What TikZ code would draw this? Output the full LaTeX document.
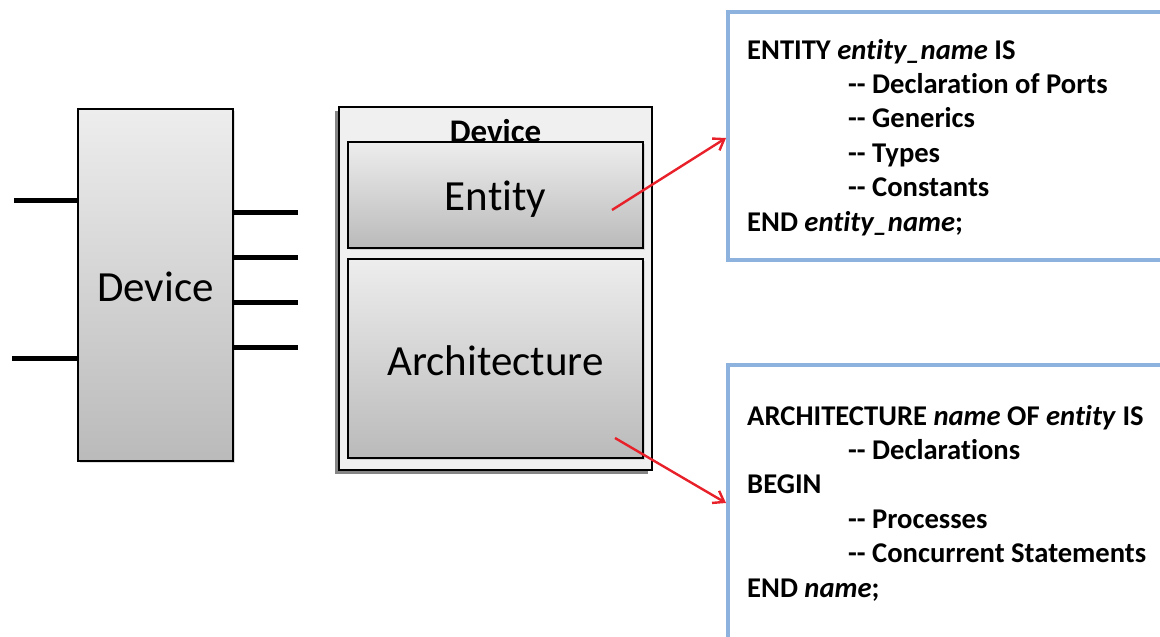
\documentclass[tikz,border=0pt]{standalone}
\usepackage{fontspec}
\setmainfont{Carlito}[Ligatures=NoCommon]
\usetikzlibrary{positioning,arrows.meta,shadows,calc}

\begin{document}
\begin{tikzpicture}[
  x=1pt, y=-1pt,
  big/.style={font=\fontsize{43}{51}\selectfont},
  block/.style={draw=black, line width=2.2pt, top color=black!7, bottom color=black!27,
                inner sep=0pt, drop shadow={shadow xshift=2pt, shadow yshift=-2pt, opacity=0.25}},
  shell/.style={draw=black, line width=2.2pt, fill=black!6, inner sep=0pt,
                drop shadow={shadow xshift=-4pt, shadow yshift=-4pt, fill=black!60, opacity=0.8}},
  pin/.style={line width=5pt},
  codebox/.style={draw={rgb,255:red,142;green,178;blue,222},
                  line width=4pt, fill=white, inner sep=0pt},
  code/.style={font=\bfseries\fontsize{28.6}{34.4}\selectfont, align=left, inner sep=0pt, anchor=base west},
  link/.style={draw={rgb,255:red,232;green,32;blue,42}, line width=2.4pt,
               -{Straight Barb[length=10pt, width=14pt, line width=2.4pt]}},
]
\useasboundingbox (0,0) rectangle (1160,637);

% ---- left: the device as a black box with its pins ----
\node[block, minimum width=155, minimum height=352] (dev) at (155.5,285) {};
\node[big] (devtxt) at ([yshift=-2]dev.center) {Device};

\coordinate (inA) at (14,200);
\coordinate (inB) at (12,358);
\draw[pin] (inA) -- (inA -| dev.west);
\draw[pin] (inB) -- (inB -| dev.west);
\foreach \y [count=\i] in {212,257,302,347} {
  \coordinate (out\i) at (298,\y);
  \draw[pin] (out\i -| dev.east) -- (out\i);
}

% ---- middle: device = entity + architecture ----
\node[shell, minimum width=313, minimum height=363] (shell) at (495.5,288.5) {};
\node[font=\bfseries\fontsize{33}{39}\selectfont, anchor=base, inner sep=0pt]
  (shelltxt) at (495.5,142) {Device};
\node[block, minimum width=295, minimum height=106] (ent) at (495.5,195) {};
\node[big] at ([yshift=-4]ent.center) {Entity};
\node[block, minimum width=295, minimum height=199] (arch) at (495.5,358.5) {};
\node[big] at ([yshift=-2]arch.center) {Architecture};

% ---- right: VHDL templates ----
\node[codebox, minimum width=480, minimum height=248] (entcode) at (968,136) {};
\node[code] (enttxt) at (747,231)
  {ENTITY \textit{entity\_name} IS\\
   \hspace*{101pt}-{}- Declaration of Ports\\
   \hspace*{101pt}-{}- Generics\\
   \hspace*{101pt}-{}- Types\\
   \hspace*{101pt}-{}- Constants\\
   END \textit{entity\_name};};

\node[codebox, minimum width=480, minimum height=340] (archcode) at (968,535) {};
\node[code] (archtxt) at (747,597)
  {ARCHITECTURE \textit{name} OF \textit{entity} IS\\
   \hspace*{101pt}-{}- Declarations\\
   BEGIN\\
   \hspace*{101pt}-{}- Processes\\
   \hspace*{101pt}-{}- Concurrent Statements\\
   END \textit{name};};

% ---- red pointers ----
\coordinate (entfrom) at (612,210);
\coordinate (archfrom) at (615,438);
\draw[link] (entfrom) -- (entcode.west |- 0,138);
\draw[link] (archfrom) -- (archcode.west |- 0,503);
\end{tikzpicture}
\end{document}
